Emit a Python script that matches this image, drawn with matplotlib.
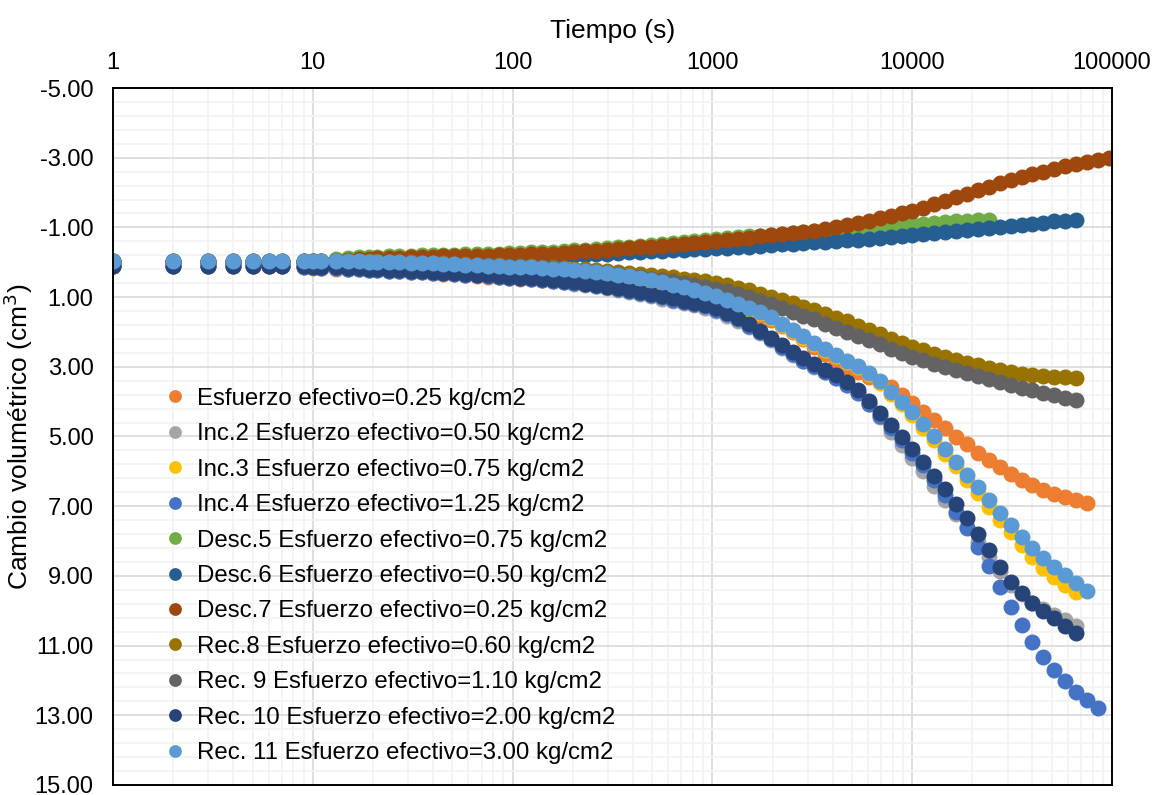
import matplotlib
matplotlib.use('Agg')
import matplotlib.pyplot as plt
from matplotlib.ticker import FixedLocator, FuncFormatter
import numpy as np

plt.rcParams['font.family'] = ['Liberation Sans', 'DejaVu Sans']

# Tiempo (s) – shared reading times, each series uses the first len(y) of them
tiempo = [1, 2, 3, 4, 5, 6, 7, 9, 10, 11, 13, 15, 17, 19, 21, 24, 27, 31, 35, 40,
          45, 51, 58, 66, 75, 85, 96, 109, 123, 140, 159, 180, 204, 231, 262, 297,
          337, 382, 434, 492, 558, 632, 717, 813, 922, 1045, 1185, 1344, 1523, 1727,
          1959, 2221, 2518, 2855, 3238, 3671, 4163, 4720, 5352, 6069, 6881, 7803,
          8848, 10033, 11376, 12899, 14627, 16585, 18806, 21324, 24179, 27417,
          31088, 35251, 39971, 45323, 51392, 58273, 66076, 74924, 84956, 96330]

# Cambio volumetrico (cm3) per load step
esf_025 = [0.10, 0.10, 0.10, 0.10, 0.10, 0.10, 0.10, 0.15, 0.16, 0.17,
           0.18, 0.19, 0.20, 0.22, 0.23, 0.25, 0.26, 0.28, 0.29, 0.31,
           0.33, 0.35, 0.37, 0.39, 0.41, 0.43, 0.45, 0.47, 0.49, 0.51,
           0.54, 0.57, 0.60, 0.63, 0.66, 0.69, 0.72, 0.75, 0.78, 0.82,
           0.86, 0.90, 0.95, 1.00, 1.06, 1.13, 1.21, 1.30, 1.41, 1.53,
           1.66, 1.82, 2.00, 2.20, 2.42, 2.63, 2.82, 3.00, 3.15, 3.30,
           3.44, 3.58, 3.81, 4.04, 4.30, 4.53, 4.76, 5.01, 5.22, 5.47,
           5.67, 5.87, 6.08, 6.25, 6.39, 6.54, 6.65, 6.74, 6.82, 6.91]
inc2 = [0.11, 0.11, 0.11, 0.11, 0.11, 0.11, 0.11, 0.14, 0.15, 0.16,
        0.17, 0.18, 0.19, 0.21, 0.22, 0.24, 0.25, 0.27, 0.28, 0.30,
        0.32, 0.34, 0.36, 0.38, 0.40, 0.42, 0.44, 0.46, 0.48, 0.50,
        0.55, 0.58, 0.61, 0.65, 0.69, 0.74, 0.79, 0.84, 0.90, 0.96,
        1.06, 1.12, 1.18, 1.24, 1.30, 1.40, 1.53, 1.68, 1.85, 2.04,
        2.24, 2.46, 2.66, 2.84, 3.01, 3.16, 3.32, 3.53, 3.76, 4.06,
        4.44, 4.86, 5.23, 5.62, 6.00, 6.43, 6.82, 7.22, 7.60, 8.02,
        8.45, 8.86, 9.26, 9.53, 9.77, 9.95, 10.11, 10.27, 10.44]
inc3 = [-0.03, -0.03, -0.03, -0.03, -0.03, -0.03, -0.03, -0.03, -0.03, -0.02,
        -0.02, -0.01, -0.01, 0.00, 0.00, 0.01, 0.02, 0.03, 0.04, 0.05,
        0.07, 0.08, 0.09, 0.11, 0.13, 0.14, 0.15, 0.16, 0.17, 0.18,
        0.20, 0.22, 0.24, 0.27, 0.30, 0.34, 0.38, 0.42, 0.47, 0.53,
        0.59, 0.66, 0.74, 0.82, 0.91, 1.00, 1.10, 1.21, 1.33, 1.46,
        1.61, 1.79, 1.98, 2.16, 2.35, 2.53, 2.70, 2.87, 3.02, 3.22,
        3.47, 3.77, 4.07, 4.38, 4.75, 5.11, 5.50, 5.86, 6.25, 6.62,
        7.01, 7.39, 7.75, 8.11, 8.45, 8.76, 9.02, 9.26, 9.45]
inc4 = [0.12, 0.12, 0.12, 0.12, 0.12, 0.12, 0.12, 0.14, 0.15, 0.16,
        0.17, 0.18, 0.19, 0.21, 0.22, 0.24, 0.25, 0.27, 0.28, 0.30,
        0.32, 0.34, 0.36, 0.38, 0.40, 0.42, 0.44, 0.46, 0.48, 0.50,
        0.53, 0.56, 0.59, 0.63, 0.67, 0.72, 0.77, 0.82, 0.88, 0.94,
        1.01, 1.07, 1.13, 1.19, 1.26, 1.36, 1.49, 1.64, 1.82, 2.01,
        2.21, 2.43, 2.63, 2.82, 2.99, 3.15, 3.31, 3.53, 3.76, 4.06,
        4.42, 4.75, 5.10, 5.46, 5.82, 6.25, 6.68, 7.16, 7.63, 8.16,
        8.73, 9.31, 9.88, 10.41, 10.89, 11.32, 11.70, 12.03, 12.32, 12.56,
        12.80]
desc5 = [0.00, 0.00, 0.00, 0.00, 0.00, 0.00, 0.00, 0.00, 0.00, 0.00,
         -0.10, -0.12, -0.14, -0.15, -0.16, -0.17, -0.18, -0.19, -0.20, -0.21,
         -0.22, -0.22, -0.23, -0.24, -0.24, -0.25, -0.26, -0.27, -0.28, -0.29,
         -0.30, -0.32, -0.34, -0.36, -0.38, -0.40, -0.43, -0.45, -0.48, -0.50,
         -0.53, -0.55, -0.58, -0.61, -0.64, -0.67, -0.69, -0.72, -0.74, -0.76,
         -0.79, -0.82, -0.85, -0.88, -0.90, -0.93, -0.95, -0.97, -0.99, -1.01,
         -1.03, -1.05, -1.07, -1.09, -1.11, -1.13, -1.15, -1.17, -1.19, -1.20,
         -1.21]
desc6 = [0.00, 0.00, 0.00, 0.00, 0.00, 0.00, 0.00, 0.00, 0.00, 0.00,
         -0.02, -0.03, -0.04, -0.05, -0.06, -0.07, -0.08, -0.09, -0.10, -0.10,
         -0.11, -0.12, -0.12, -0.13, -0.14, -0.14, -0.15, -0.16, -0.17, -0.18,
         -0.19, -0.20, -0.21, -0.22, -0.23, -0.25, -0.26, -0.28, -0.29, -0.31,
         -0.32, -0.34, -0.35, -0.37, -0.38, -0.40, -0.42, -0.43, -0.45, -0.47,
         -0.49, -0.51, -0.53, -0.55, -0.57, -0.59, -0.61, -0.63, -0.65, -0.67,
         -0.70, -0.72, -0.75, -0.78, -0.81, -0.84, -0.87, -0.90, -0.93, -0.96,
         -0.99, -1.02, -1.05, -1.08, -1.11, -1.14, -1.17, -1.19, -1.21]
desc7 = [0.00, 0.00, 0.00, 0.00, 0.00, 0.00, 0.00, -0.02, -0.03, -0.04,
         -0.05, -0.07, -0.09, -0.10, -0.11, -0.12, -0.13, -0.14, -0.15, -0.16,
         -0.17, -0.17, -0.18, -0.19, -0.19, -0.20, -0.21, -0.22, -0.23, -0.24,
         -0.25, -0.27, -0.29, -0.31, -0.33, -0.35, -0.38, -0.40, -0.43, -0.45,
         -0.48, -0.50, -0.53, -0.56, -0.59, -0.62, -0.65, -0.68, -0.71, -0.74,
         -0.77, -0.80, -0.83, -0.86, -0.90, -0.95, -1.00, -1.06, -1.12, -1.19,
         -1.26, -1.33, -1.40, -1.47, -1.57, -1.67, -1.77, -1.87, -1.97, -2.07,
         -2.17, -2.26, -2.35, -2.44, -2.52, -2.60, -2.68, -2.76, -2.83, -2.89,
         -2.94, -2.99]
rec8 = [-0.04, -0.04, -0.04, -0.04, -0.04, -0.04, -0.04, -0.04, -0.04, -0.04,
        -0.05, -0.04, -0.04, -0.03, -0.03, -0.02, -0.01, 0.00, 0.01, 0.02,
        0.03, 0.04, 0.05, 0.07, 0.08, 0.09, 0.10, 0.11, 0.12, 0.13,
        0.15, 0.16, 0.18, 0.20, 0.22, 0.25, 0.28, 0.31, 0.34, 0.37,
        0.40, 0.43, 0.47, 0.51, 0.55, 0.60, 0.66, 0.73, 0.81, 0.90,
        0.99, 1.08, 1.17, 1.27, 1.37, 1.48, 1.59, 1.70, 1.82, 1.95,
        2.07, 2.19, 2.31, 2.42, 2.52, 2.62, 2.71, 2.80, 2.88, 2.96,
        3.03, 3.10, 3.16, 3.20, 3.23, 3.26, 3.28, 3.30, 3.31]
rec9 = [-0.03, -0.03, -0.03, -0.03, -0.03, -0.03, -0.03, -0.03, -0.03, -0.03,
        -0.03, -0.03, -0.02, -0.02, -0.01, 0.00, 0.01, 0.02, 0.03, 0.04,
        0.05, 0.06, 0.07, 0.08, 0.09, 0.10, 0.11, 0.12, 0.13, 0.14,
        0.16, 0.19, 0.22, 0.25, 0.28, 0.31, 0.35, 0.39, 0.43, 0.47,
        0.51, 0.55, 0.60, 0.65, 0.70, 0.76, 0.83, 0.91, 1.00, 1.10,
        1.20, 1.31, 1.42, 1.53, 1.64, 1.76, 1.88, 2.00, 2.12, 2.24,
        2.36, 2.48, 2.60, 2.71, 2.81, 2.91, 3.00, 3.09, 3.18, 3.27,
        3.36, 3.45, 3.53, 3.61, 3.68, 3.75, 3.82, 3.89, 3.95]
rec10 = [0.10, 0.10, 0.10, 0.10, 0.10, 0.10, 0.10, 0.12, 0.13, 0.14,
         0.15, 0.16, 0.17, 0.19, 0.20, 0.22, 0.23, 0.25, 0.26, 0.28,
         0.30, 0.32, 0.34, 0.36, 0.38, 0.40, 0.42, 0.44, 0.46, 0.48,
         0.51, 0.54, 0.57, 0.61, 0.65, 0.70, 0.75, 0.80, 0.86, 0.92,
         0.98, 1.04, 1.10, 1.16, 1.22, 1.32, 1.45, 1.60, 1.77, 1.96,
         2.16, 2.38, 2.58, 2.76, 2.93, 3.08, 3.24, 3.45, 3.68, 3.98,
         4.34, 4.67, 5.01, 5.37, 5.72, 6.13, 6.52, 6.94, 7.35, 7.80,
         8.27, 8.74, 9.18, 9.50, 9.77, 10.00, 10.21, 10.44, 10.65]
rec11 = [-0.05, -0.05, -0.05, -0.05, -0.05, -0.05, -0.05, -0.05, -0.05, -0.04,
         -0.04, -0.03, -0.03, -0.02, -0.02, -0.01, 0.00, 0.01, 0.02, 0.03,
         0.05, 0.06, 0.07, 0.09, 0.11, 0.12, 0.13, 0.14, 0.15, 0.16,
         0.18, 0.20, 0.22, 0.25, 0.28, 0.32, 0.36, 0.40, 0.45, 0.51,
         0.57, 0.64, 0.72, 0.80, 0.89, 0.98, 1.08, 1.19, 1.31, 1.44,
         1.58, 1.76, 1.95, 2.13, 2.32, 2.50, 2.66, 2.83, 2.98, 3.18,
         3.42, 3.71, 4.00, 4.30, 4.65, 5.00, 5.37, 5.72, 6.10, 6.46,
         6.82, 7.19, 7.54, 7.89, 8.21, 8.50, 8.75, 8.97, 9.21, 9.42]

series = [esf_025, inc2, inc3, inc4, desc5, desc6, desc7, rec8, rec9, rec10, rec11]
labels = ['Esfuerzo efectivo=0.25 kg/cm2',
          'Inc.2 Esfuerzo efectivo=0.50 kg/cm2',
          'Inc.3 Esfuerzo efectivo=0.75 kg/cm2',
          'Inc.4 Esfuerzo efectivo=1.25 kg/cm2',
          'Desc.5 Esfuerzo efectivo=0.75 kg/cm2',
          'Desc.6 Esfuerzo efectivo=0.50 kg/cm2',
          'Desc.7 Esfuerzo efectivo=0.25 kg/cm2',
          'Rec.8 Esfuerzo efectivo=0.60 kg/cm2',
          'Rec. 9 Esfuerzo efectivo=1.10 kg/cm2',
          'Rec. 10 Esfuerzo efectivo=2.00 kg/cm2',
          'Rec. 11 Esfuerzo efectivo=3.00 kg/cm2']
colors = ['#ED7D31', '#A5A5A5', '#FFC000', '#4472C4', '#70AD47', '#255E91',
          '#9E480E', '#997300', '#636363', '#264478', '#5B9BD5']

fig = plt.figure(figsize=(11.57, 7.95), dpi=100)
ax = fig.add_axes([0.0977, 0.0126, 0.8634, 0.8767])

for y, lab, col in zip(series, labels, colors):
    ax.plot(tiempo[:len(y)], y, linestyle='none', marker='o', markersize=11.5,
            markeredgewidth=0, color=col, label=lab)

ax.set_xscale('log')
ax.set_xlim(1, 100000)
ax.set_ylim(15, -5)

# grid
ax.xaxis.set_major_locator(FixedLocator([1, 10, 100, 1000, 10000, 100000]))
ax.xaxis.set_minor_locator(FixedLocator([m * 10 ** d for d in range(5) for m in range(2, 10)]))
ax.yaxis.set_major_locator(FixedLocator(np.arange(-5, 15.1, 2)))
ax.yaxis.set_minor_locator(FixedLocator(np.arange(-5, 15.01, 0.4)))
ax.xaxis.set_major_formatter(FuncFormatter(lambda v, p: f'{v:.0f}'))
ax.yaxis.set_major_formatter(FuncFormatter(lambda v, p: f'{v:.2f}'))
ax.grid(which='major', color='#D9D9D9', linewidth=1.2)
ax.grid(which='minor', color='#F2F2F2', linewidth=1.2)
ax.set_axisbelow(True)

ax.xaxis.tick_top()
ax.xaxis.set_label_position('top')
ax.tick_params(which='both', length=0)
ax.tick_params(axis='y', labelsize=17, pad=14)
ax.tick_params(axis='x', labelsize=17, pad=10)

ax.set_xlabel('Tiempo (s)', fontsize=19, labelpad=10)
ax.set_ylabel('Cambio volumétrico (cm$^3$)', fontsize=19, labelpad=0)

for sp in ax.spines.values():
    sp.set_color('black')
    sp.set_linewidth(1.4)

ax.legend(loc='upper left', bbox_to_anchor=(0.0527, 0.570), frameon=False,
          fontsize=17.3, handlelength=0.8, handletextpad=0.5, labelspacing=0.56,
          borderpad=0, borderaxespad=0, markerscale=0.8)

fig.savefig('out.png', dpi=100)
